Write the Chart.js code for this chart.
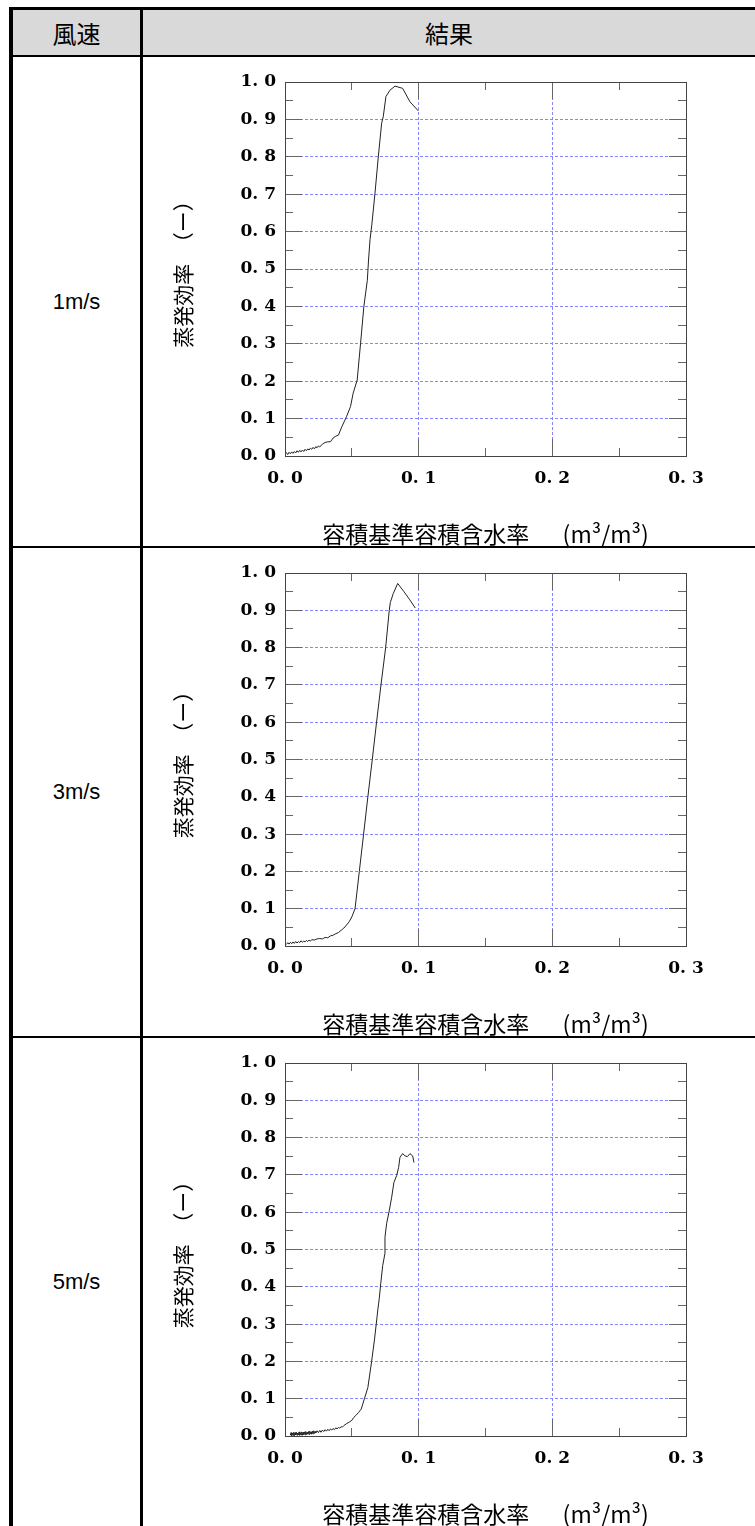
<!DOCTYPE html>
<html><head><meta charset="utf-8">
<script src="https://cdn.jsdelivr.net/npm/chart.js@4.4.0/dist/chart.umd.min.js"></script>
<style>
html,body{margin:0;padding:0;background:#fff;width:755px;height:1526px;overflow:hidden;position:relative;}
.line{position:absolute;background:#000;z-index:5;}
.hdr{position:absolute;left:13px;top:10px;width:742px;height:45px;background:#d9d9d9;}
.htxt{position:absolute;top:10px;height:45px;line-height:45px;text-align:center;font-family:"Noto Sans CJK JP";font-size:24px;font-weight:400;color:#000;z-index:6;}
.rlab{position:absolute;left:13px;width:127px;display:flex;align-items:center;justify-content:center;font-family:"Liberation Sans",Arial,sans-serif;font-size:22px;color:#000;}
canvas{position:absolute;left:143px;}
</style></head>
<body>
<div class="hdr"></div>
<div class="htxt" style="left:13px;width:127px;">風速</div>
<div class="htxt" style="left:143px;width:612px;">結果</div>
<div class="line" style="left:9px;top:7px;width:746px;height:3px;"></div>
<div class="line" style="left:9px;top:7px;width:4px;height:1519px;"></div>
<div class="line" style="left:140px;top:7px;width:3px;height:1519px;"></div>
<div class="line" style="left:9px;top:55px;width:746px;height:2px;"></div>
<div class="line" style="left:9px;top:546px;width:746px;height:2px;"></div>
<div class="line" style="left:9px;top:1036px;width:746px;height:2px;"></div>
<div id="labels"></div>
<canvas id="c0" width="612" height="489" style="top:57px"></canvas>
<canvas id="c1" width="612" height="488" style="top:548px"></canvas>
<canvas id="c2" width="612" height="488" style="top:1038px"></canvas>
<script>
// ---- data ----
const windSpeeds = ['1m/s', '3m/s', '5m/s'];
const xTickLabels = ['0. 0', '0. 1', '0. 2', '0. 3'];
const yTickLabels = ['0. 0','0. 1','0. 2','0. 3','0. 4','0. 5','0. 6','0. 7','0. 8','0. 9','1. 0'];
const xTitle = '容積基準容積含水率　  (m³/m³)';
const yTitle = '蒸発効率　（ー）';

const moisture1 = [0.000,0.001,0.002,0.003,0.004,0.005,0.006,0.007,0.008,0.009,0.010,0.011,0.012,0.013,0.014,0.015,0.016,0.017,0.018,0.019,0.020,0.021,0.022,0.023,0.024,0.025,0.026,0.028,0.030,0.032,0.034,0.036,0.038,0.040,0.0425,0.046,0.049,0.051,0.054,0.0565,0.059,0.0616,0.0625,0.0636,0.065,0.0673,0.0698,0.0723,0.0735,0.0755,0.0785,0.0823,0.088,0.0935,0.0997];
const efficiency1 = [0.005,0.009,0.004,0.010,0.006,0.011,0.007,0.012,0.008,0.014,0.010,0.015,0.011,0.016,0.012,0.018,0.014,0.019,0.016,0.021,0.018,0.023,0.019,0.025,0.022,0.027,0.024,0.032,0.036,0.038,0.038,0.048,0.053,0.056,0.078,0.105,0.132,0.168,0.203,0.300,0.400,0.470,0.524,0.578,0.620,0.702,0.800,0.890,0.907,0.961,0.978,0.989,0.983,0.947,0.923];

const moisture2 = [0.001,0.002,0.003,0.004,0.005,0.006,0.007,0.008,0.009,0.010,0.011,0.012,0.013,0.014,0.015,0.016,0.017,0.018,0.019,0.020,0.022,0.024,0.026,0.028,0.030,0.032,0.034,0.036,0.038,0.040,0.042,0.044,0.046,0.048,0.050,0.0524,0.054,0.0556,0.0588,0.062,0.0653,0.0685,0.0718,0.0753,0.078,0.0788,0.081,0.0843,0.089,0.093,0.0975];
const efficiency2 = [0.004,0.009,0.005,0.010,0.006,0.011,0.007,0.012,0.008,0.012,0.009,0.014,0.010,0.013,0.011,0.015,0.012,0.016,0.013,0.017,0.016,0.019,0.020,0.019,0.023,0.022,0.027,0.029,0.033,0.036,0.042,0.048,0.056,0.065,0.078,0.100,0.150,0.200,0.300,0.400,0.500,0.600,0.700,0.800,0.900,0.921,0.945,0.972,0.950,0.930,0.906];

const moisture3 = [0.004,0.0045,0.005,0.0055,0.006,0.0065,0.007,0.0075,0.008,0.0085,0.009,0.0095,0.010,0.0105,0.011,0.0115,0.012,0.0125,0.013,0.0135,0.014,0.0145,0.015,0.0155,0.016,0.0165,0.017,0.0175,0.018,0.0185,0.019,0.0195,0.020,0.0205,0.021,0.0215,0.022,0.0225,0.023,0.024,0.025,0.026,0.027,0.028,0.029,0.030,0.031,0.032,0.033,0.034,0.035,0.036,0.037,0.038,0.039,0.040,0.041,0.042,0.043,0.044,0.046,0.048,0.050,0.0515,0.053,0.055,0.057,0.0594,0.062,0.0648,0.067,0.0695,0.0705,0.0716,0.0731,0.0748,0.0748,0.076,0.078,0.0798,0.0815,0.0835,0.085,0.086,0.088,0.0898,0.0915,0.0935,0.0955,0.0965];
const efficiency3 = [0.002,0.009,0.001,0.008,0.002,0.010,0.001,0.009,0.003,0.010,0.002,0.008,0.003,0.011,0.002,0.009,0.003,0.011,0.002,0.010,0.004,0.011,0.003,0.012,0.004,0.010,0.005,0.012,0.004,0.013,0.006,0.011,0.005,0.013,0.006,0.014,0.007,0.012,0.008,0.014,0.009,0.015,0.010,0.016,0.012,0.017,0.013,0.018,0.014,0.019,0.016,0.020,0.017,0.022,0.019,0.023,0.021,0.025,0.024,0.028,0.033,0.037,0.042,0.050,0.055,0.063,0.072,0.100,0.130,0.200,0.260,0.340,0.368,0.408,0.457,0.490,0.533,0.569,0.604,0.640,0.680,0.698,0.720,0.747,0.757,0.751,0.749,0.757,0.751,0.733];

const seriesX = [moisture1, moisture2, moisture3];
const seriesY = [efficiency1, efficiency2, efficiency3];

// ---- row labels ----
const rowTops = [57, 548, 1038];
const rowHeights = [489, 488, 488];
const lab = document.getElementById('labels');
windSpeeds.forEach((w, i) => {
  const d = document.createElement('div');
  d.className = 'rlab';
  d.style.top = rowTops[i] + 'px';
  d.style.height = rowHeights[i] + 'px';
  d.textContent = w;
  lab.appendChild(d);
});

// ---- chart ----
const gridBlue = '#8585ff';
function gridColor(min, max) {
  return ctx => {
    if (!ctx.tick) return gridBlue;
    const v = ctx.tick.value;
    return (Math.abs(v - min) < 1e-9 || Math.abs(v - max) < 1e-9) ? 'rgba(0,0,0,0)' : gridBlue;
  };
}
const align = p => Math.round(p - 0.5) + 0.5;

const frameTicks = {
  id: 'frameTicks',
  afterDatasetsDraw(chart) {
    const {ctx, chartArea: a, scales: {x, y}} = chart;
    const o = chart.options.plugins.frameTicks;
    ctx.save();
    ctx.strokeStyle = '#666';
    ctx.lineWidth = 1;
    ctx.beginPath();
    for (let i = 1; i * o.yMinor < y.max - 1e-9; i++) {
      const p = align(y.getPixelForValue(i * o.yMinor));
      const len = i % 2 === 0 ? 17 : 8;
      ctx.moveTo(a.left, p); ctx.lineTo(a.left + len, p);
      ctx.moveTo(a.right, p); ctx.lineTo(a.right - len, p);
    }
    for (let i = 1; i * o.xMinor < x.max - 1e-9; i++) {
      const p = align(x.getPixelForValue(i * o.xMinor));
      const len = i % 2 === 0 ? 17 : 8;
      ctx.moveTo(p, a.bottom); ctx.lineTo(p, a.bottom - len);
      ctx.moveTo(p, a.top); ctx.lineTo(p, a.top + len);
    }
    ctx.stroke();
    ctx.strokeStyle = '#444';
    ctx.strokeRect(align(a.left), align(a.top),
                   Math.round(a.right - a.left), Math.round(a.bottom - a.top));
    ctx.restore();
  }
};

const tickFont = {family: 'DejaVu Serif', weight: 'bold', size: 17};

seriesX.forEach((xs, k) => {
  const pts = xs.map((v, i) => ({x: v, y: seriesY[k][i]}));
  new Chart(document.getElementById('c' + k), {
    type: 'scatter',
    data: {datasets: [{data: pts, showLine: true, borderColor: '#222', borderWidth: 1,
                       pointRadius: 0, tension: 0, fill: false}]},
    plugins: [frameTicks],
    options: {
      responsive: false, animation: false, devicePixelRatio: 1,
      layout: {padding: 0},
      plugins: {legend: {display: false}, tooltip: {enabled: false},
                frameTicks: {xMinor: 0.05, yMinor: 0.05}},
      scales: {
        x: {
          type: 'linear', position: 'bottom', min: 0, max: 0.3,
          ticks: {stepSize: 0.1, autoSkip: false, maxRotation: 0, color: '#000', font: tickFont, padding: 12,
                  callback: (v, i) => xTickLabels[i]},
          grid: {drawTicks: false, lineWidth: 1, color: gridColor(0, 0.3)},
          border: {display: false, dash: [3, 2]},
          title: {display: true, text: xTitle, color: '#000', padding: 0,
                  font: {family: 'Noto Sans CJK JP', size: 23, lineHeight: 1}},
          afterFit: s => { s.height = 90; }
        },
        xTop: {
          type: 'linear', position: 'top', min: 0, max: 0.3,
          ticks: {display: false}, grid: {display: false}, border: {display: false},
          afterFit: s => { s.height = 25; }
        },
        y: {
          type: 'linear', position: 'left', min: 0, max: 1,
          ticks: {stepSize: 0.1, autoSkip: false, color: '#000', font: tickFont, padding: 9,
                  callback: (v, i) => yTickLabels[i]},
          grid: {drawTicks: false, lineWidth: 1, color: gridColor(0, 1)},
          border: {display: false, dash: [3, 2]},
          title: {display: true, text: yTitle, color: '#000', padding: {top: 27, bottom: 0},
                  font: {family: 'Noto Sans CJK JP', size: 21, lineHeight: 1.2}},
          afterFit: s => { s.width = 142; }
        },
        yRight: {
          type: 'linear', position: 'right', min: 0, max: 1,
          ticks: {display: false}, grid: {display: false}, border: {display: false},
          afterFit: s => { s.width = 69; }
        }
      }
    }
  });
});
</script>
</body></html>
